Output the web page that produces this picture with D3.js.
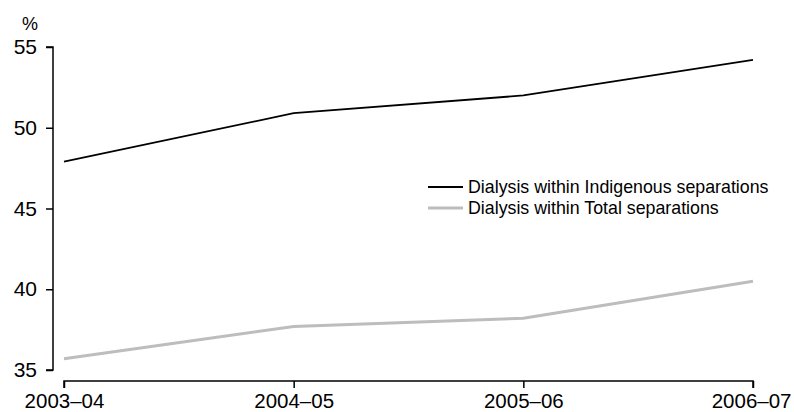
<!DOCTYPE html>
<html><head><meta charset="utf-8">
<script src="https://cdn.jsdelivr.net/npm/d3@7"></script>
<style>body{margin:0;background:#fff}svg{display:block}</style>
</head><body><svg id="c" width="794" height="412"></svg>
<script>
const categories = ["2003–04","2004–05","2005–06","2006–07"];
const indigenous = [47.9, 50.9, 52.0, 54.2];
const total = [35.7, 37.7, 38.2, 40.5];
const yTicks = [35, 40, 45, 50, 55];
const seriesNames = ["Dialysis within Indigenous separations","Dialysis within Total separations"];

const svg = d3.select("#c");
const F = "'Liberation Sans',Arial,sans-serif";
const x = d3.scalePoint().domain(categories).range([64, 753]);
const y = d3.scaleLinear().domain([35, 55]).range([370, 47]);

const ya = svg.append("g").attr("transform","translate(53,0)")
  .call(d3.axisLeft(y).tickValues(yTicks).tickSize(7).tickPadding(9).tickFormat(d3.format("d")));
ya.select(".domain").attr("d","M-7,"+y(55)+"H0V"+y(35)+"H-7").attr("stroke","#000").attr("stroke-width",1.5);
ya.selectAll("line").attr("stroke","#000").attr("stroke-width",1.5);
ya.selectAll("text").attr("font-family",F).attr("font-size",21).attr("fill","#000");

const xa = svg.append("g").attr("transform","translate(0,381)")
  .call(d3.axisBottom(x).tickSize(7).tickPadding(5));
xa.select(".domain").attr("d","M"+x(categories[0])+",7V0H"+x(categories[3])+"V7").attr("stroke","#000").attr("stroke-width",1.5);
xa.selectAll("line").attr("stroke","#000").attr("stroke-width",1.5);
xa.selectAll("text").attr("font-family",F).attr("font-size",20.5).attr("fill","#000")
  .attr("text-anchor",(d,i)=> i===categories.length-1 ? "end" : "middle")
  .attr("x",(d,i)=> i===categories.length-1 ? 38 : 0);

svg.append("text").attr("x",22).attr("y",30)
  .attr("font-family",F).attr("font-size",18).text("%");

const line = d3.line().x((d,i)=>x(categories[i])).y(d=>y(d));
svg.append("path").datum(total).attr("d",line).attr("fill","none").attr("stroke","#bdbdbd").attr("stroke-width",3);
svg.append("path").datum(indigenous).attr("d",line).attr("fill","none").attr("stroke","#000").attr("stroke-width",1.8);

const lg = svg.append("g");
const colors = ["#000","#bdbdbd"], widths=[1.8,3];
seriesNames.forEach((n,i)=>{
  const yy = 187 + i*21;
  lg.append("line").attr("x1",428).attr("x2",463).attr("y1",yy).attr("y2",yy).attr("stroke",colors[i]).attr("stroke-width",widths[i]);
  lg.append("text").attr("x",468).attr("y",yy+6).attr("font-family",F).attr("font-size",17.8).text(n);
});
</script></body></html>
